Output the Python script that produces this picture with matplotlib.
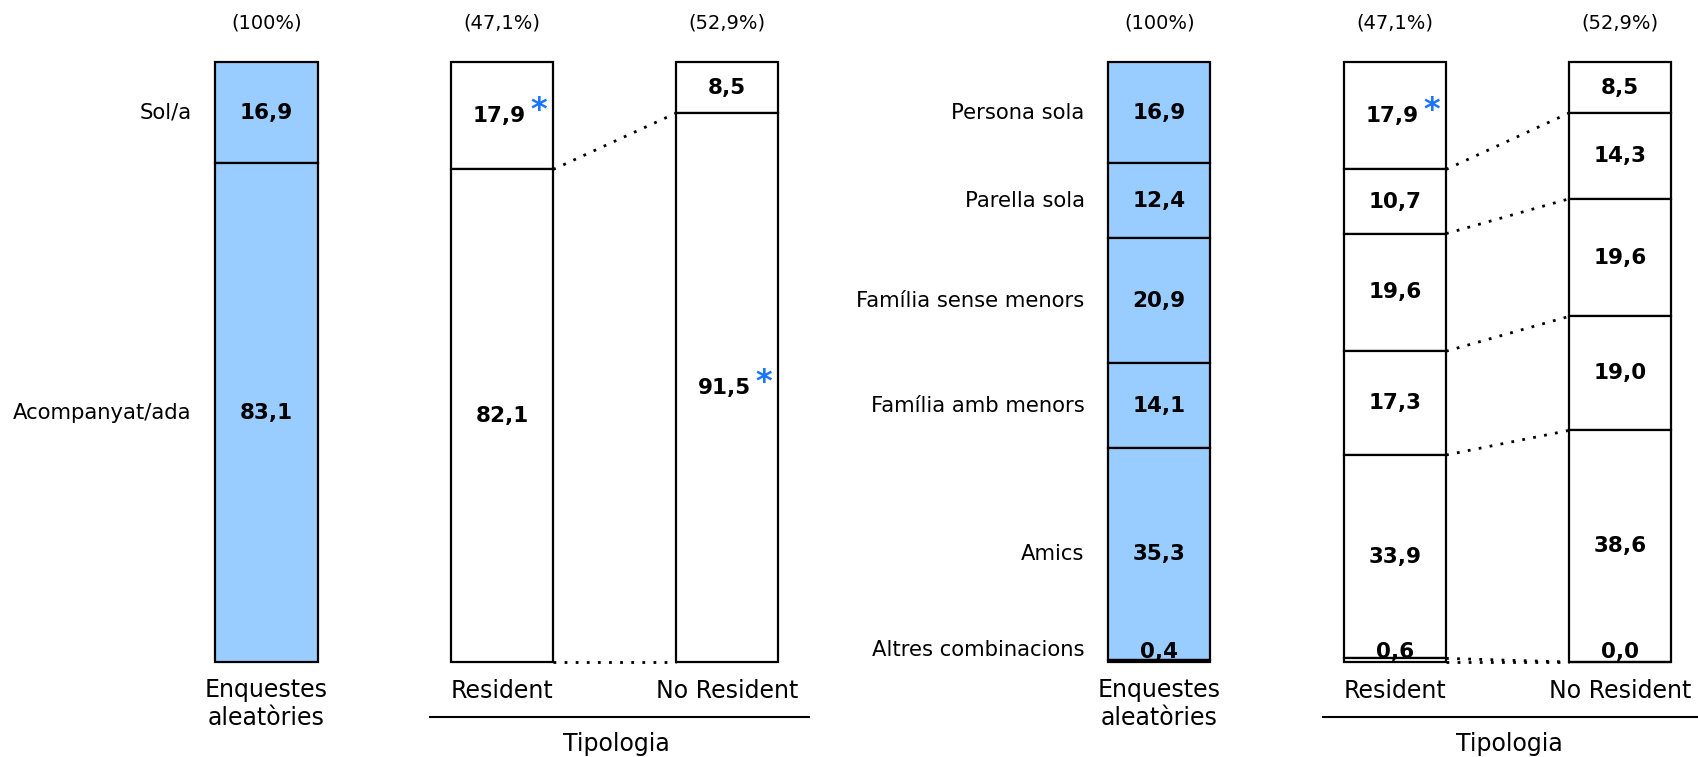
import numpy as np
import matplotlib.pyplot as plt

plt.rcParams['font.family'] = ['DejaVu Sans']

# panel 1: sol / acompanyat
cats_1 = ["Sol/a", "Acompanyat/ada"]
total_1 = [16.9, 83.1]
resident_1 = [17.9, 82.1]
no_resident_1 = [8.5, 91.5]
stars_res_1 = [True, False]
stars_nores_1 = [False, True]

# panel 2: amb qui viatja
cats_2 = ["Persona sola", "Parella sola", "Família sense menors",
          "Família amb menors", "Amics", "Altres combinacions"]
total_2 = [16.9, 12.4, 20.9, 14.1, 35.3, 0.4]
resident_2 = [17.9, 10.7, 19.6, 17.3, 33.9, 0.6]
no_resident_2 = [8.5, 14.3, 19.6, 19.0, 38.6, 0.0]
stars_res_2 = [True, False, False, False, False, False]
stars_nores_2 = [False] * 6

shares = ["(100%)", "(47,1%)", "(52,9%)"]
col_labels = ["Enquestes\naleatòries", "Resident", "No Resident"]
group_label = "Tipologia"

BLUE = "#99ccff"
STAR = "#1a75ff"
xpos = [0, 2.3, 4.5]


def fmt(v):
    return f"{v:.1f}".replace(".", ",")


def label_y(bottom, v):
    return bottom + v / 2 if v >= 3 else 1.6


def draw_panel(ax, cats, cols, stars):
    bottoms_all = []
    for j, (vals, col_stars) in enumerate(zip(cols, stars)):
        vals = np.array(vals)
        bottoms = 100 - np.cumsum(vals)
        bottoms_all.append(bottoms)
        face = BLUE if j == 0 else "white"
        ax.bar(np.full(len(vals), xpos[j]), vals, bottom=bottoms, width=1,
               color=face, edgecolor="black", linewidth=1.6, clip_on=False)
        for v, b, s in zip(vals, bottoms, col_stars):
            y = label_y(b, v)
            dx = -0.03 if s else 0
            ax.text(xpos[j] + dx, y, fmt(v), ha="center", va="center",
                    fontsize=15.5, fontweight="bold", clip_on=False)
            if s:
                ax.text(xpos[j] + 0.36, y + 0.8, "*", ha="center", va="center",
                        fontsize=23, fontweight="bold", color=STAR)
        ax.text(xpos[j], 106.5, shares[j], ha="center", va="center", fontsize=14)

    # category labels next to the total bar
    for c, v, b in zip(cats, cols[0], bottoms_all[0]):
        y = b + v / 2 if v >= 3 else 2.0
        ax.text(-0.73, y, c, ha="right", va="center", fontsize=15.2)

    # dotted connectors between resident and no resident
    for yr, yn in zip(bottoms_all[1], bottoms_all[2]):
        ax.plot([xpos[1] + 0.5, xpos[2] - 0.5], [max(yr, 0), max(yn, 0)],
                color="black", linewidth=2, linestyle=(0, (1, 3)), clip_on=False)

    ax.text(xpos[0], -7.0, col_labels[0], ha="center", va="center",
            fontsize=17, linespacing=1.2)
    ax.text(xpos[1], -4.8, col_labels[1], ha="center", va="center", fontsize=17)
    ax.text(xpos[2], -4.8, col_labels[2], ha="center", va="center", fontsize=17)
    ax.plot([1.6, 5.3], [-9.2, -9.2], color="black", linewidth=1.5, clip_on=False)
    ax.text(3.42, -13.7, group_label, ha="center", va="center", fontsize=17)

    ax.set_xlim(-0.5, 5.0)
    ax.set_ylim(0, 100)
    ax.axis("off")


fig = plt.figure(figsize=(16.99, 7.57), dpi=100)
ax1 = fig.add_axes([0.1267, 0.1255, 0.3315, 0.7925])
ax2 = fig.add_axes([0.6522, 0.1255, 0.3315, 0.7925])

draw_panel(ax1, cats_1, [total_1, resident_1, no_resident_1],
           [[False] * 2, stars_res_1, stars_nores_1])
draw_panel(ax2, cats_2, [total_2, resident_2, no_resident_2],
           [[False] * 6, stars_res_2, stars_nores_2])

fig.savefig("out.png", dpi=100)
